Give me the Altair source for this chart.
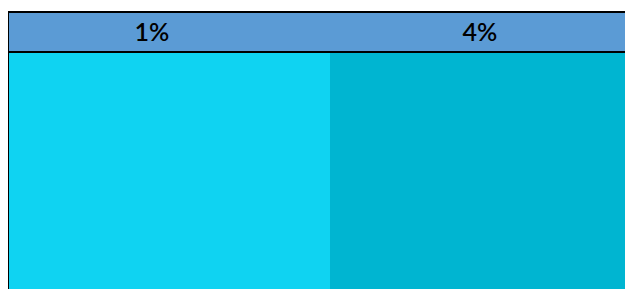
import altair as alt
import pandas as pd

labels = ["1%", "4%"]
col_start = [0, 322]
col_end = [322, 640]
label_x = [144, 472]
col_colors = ["#0FD3F2", "#00B5D1"]

W, H = 617, 281
HEADER_TOP, HEADER_BOTTOM = 4, 44

cols = pd.DataFrame({
    "label": labels,
    "x0": col_start,
    "x1": col_end,
    "lx": label_x,
    "color": col_colors,
})
header = pd.DataFrame({"x0": [0], "x1": [W + 10], "y0": [HEADER_TOP], "y1": [HEADER_BOTTOM]})

xs = alt.Scale(domain=[0, W], range=[0, W], nice=False, zero=False)
ys = alt.Scale(domain=[0, H], range=[0, H], nice=False, zero=False)

body = alt.Chart(cols).mark_rect(stroke=None).encode(
    x=alt.X("x0:Q", scale=xs, axis=None),
    x2="x1:Q",
    y=alt.value(HEADER_BOTTOM),
    y2=alt.value(H + 10),
    color=alt.Color("color:N", scale=None),
)

head = alt.Chart(header).mark_rect(
    fill="#5B9BD5", stroke="black", strokeWidth=2
).encode(
    x=alt.X("x0:Q", scale=xs, axis=None),
    x2="x1:Q",
    y=alt.Y("y0:Q", scale=ys, axis=None),
    y2="y1:Q",
)

left_line = alt.Chart(header).mark_rule(color="black", strokeWidth=2).encode(
    x=alt.X("x0:Q", scale=xs, axis=None),
    y=alt.Y("y0:Q", scale=ys, axis=None),
    y2=alt.value(H + 10),
)

text = alt.Chart(cols).mark_text(
    font="Lato", fontSize=25, fontWeight=600, color="black", baseline="middle", align="center"
).encode(
    x=alt.X("lx:Q", scale=xs, axis=None),
    y=alt.value((HEADER_TOP + HEADER_BOTTOM) / 2 + 1),
    text="label:N",
)

chart = alt.layer(body, head, left_line, text).properties(
    width=W, height=H, padding=0, autosize=alt.AutoSizeParams(type="none")
).configure_view(stroke=None, clip=True)

chart.save("out.html", embed_options={"renderer": "svg", "actions": False})
